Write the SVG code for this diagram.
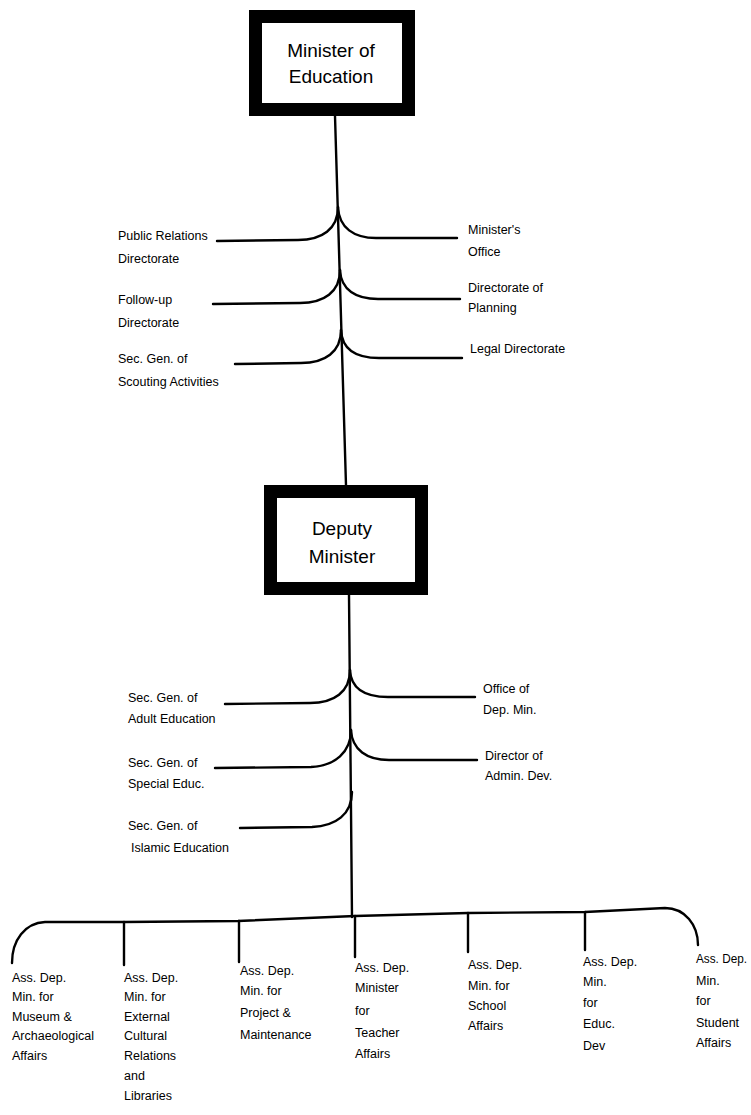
<svg xmlns="http://www.w3.org/2000/svg" width="751" height="1115" viewBox="0 0 751 1115">
<style>
.box{fill:#fff;stroke:#000;stroke-width:13}
.ln{fill:none;stroke:#000;stroke-width:2.4;stroke-linecap:round;stroke-linejoin:round}
.t{font-family:"Liberation Sans",Arial,sans-serif;fill:#000}
.big{font-size:19px}
.sm{font-size:12.5px}
.bt{font-size:12.5px}
</style>
<rect width="751" height="1115" fill="#fff"/>
<g id="connectors" class="ln">
<path d="M335 116 L346 485"/>
<path d="M338 207 C338 229 322 240 298 240 L217 241"/>
<path d="M338 207 C339 228 354 238 376 238 L457 238"/>
<path d="M340 270 C340 292 324 303 300 303 L213 304"/>
<path d="M340 270 C341 290 356 299 378 299 L460 299"/>
<path d="M341 330 C341 352 325 363 301 363 L235 364"/>
<path d="M341 330 C342 350 357 358 379 358 L462 358"/>
<path d="M349 595 L352 917"/>
<path d="M350 670 C350 692 334 703 310 703 L225 704"/>
<path d="M350 670 C351 690 366 697 388 697 L475 697"/>
<path d="M351 730 C351 752 335 766 311 767 L215 768"/>
<path d="M351 730 C352 750 367 760 389 760 L477 760"/>
<path d="M352 792 C352 814 336 826 312 827 L240 828"/>
<path d="M12 963 C12 940 25 923 45 922 L124 922 L238 921 L355 916 L468 913 L585 912 L665 908 C685 908 698 925 698 945"/>
<path d="M124 922 L124 965"/>
<path d="M239 921 L239 962"/>
<path d="M355 916 L355 957"/>
<path d="M468 913 L468 952"/>
<path d="M585 912 L585 950"/>
</g>
<g id="minister">
<rect class="box" x="255.5" y="16.5" width="153" height="93"/>
<text class="t big" x="331" y="57" text-anchor="middle">Minister of</text>
<text class="t big" x="331" y="83" text-anchor="middle">Education</text>
</g>
<g id="deputy">
<rect class="box" x="270.5" y="491.5" width="151" height="97"/>
<text class="t big" x="342" y="535" text-anchor="middle">Deputy</text>
<text class="t big" x="342" y="563" text-anchor="middle">Minister</text>
</g>
<g id="public-relations"><text class="t sm" x="118" y="240">Public Relations</text><text class="t sm" x="118" y="263">Directorate</text></g>
<g id="follow-up"><text class="t sm" x="118" y="304">Follow-up</text><text class="t sm" x="118" y="327">Directorate</text></g>
<g id="scouting"><text class="t sm" x="118" y="363">Sec. Gen. of</text><text class="t sm" x="118" y="386">Scouting Activities</text></g>
<g id="ministers-office"><text class="t sm" x="468" y="234">Minister's</text><text class="t sm" x="468" y="256">Office</text></g>
<g id="planning"><text class="t sm" x="468" y="292">Directorate of</text><text class="t sm" x="468" y="312">Planning</text></g>
<g id="legal"><text class="t sm" x="470" y="353">Legal Directorate</text></g>
<g id="adult-education"><text class="t sm" x="128" y="702">Sec. Gen. of</text><text class="t sm" x="128" y="723">Adult Education</text></g>
<g id="special-educ"><text class="t sm" x="128" y="767">Sec. Gen. of</text><text class="t sm" x="128" y="788">Special Educ.</text></g>
<g id="islamic-education"><text class="t sm" x="128" y="830">Sec. Gen. of</text><text class="t sm" x="131" y="852">Islamic Education</text></g>
<g id="office-dep-min"><text class="t sm" x="483" y="693">Office of</text><text class="t sm" x="483" y="714">Dep. Min.</text></g>
<g id="admin-dev"><text class="t sm" x="485" y="760">Director of</text><text class="t sm" x="485" y="780">Admin. Dev.</text></g>
<g id="museum">
<text class="t bt" x="12" y="982">Ass. Dep.</text><text class="t bt" x="12" y="1001">Min. for</text><text class="t bt" x="12" y="1021">Museum &amp;</text><text class="t bt" x="12" y="1040">Archaeological</text><text class="t bt" x="12" y="1060">Affairs</text>
</g>
<g id="cultural">
<text class="t bt" x="124" y="982">Ass. Dep.</text><text class="t bt" x="124" y="1001">Min. for</text><text class="t bt" x="124" y="1021">External</text><text class="t bt" x="124" y="1040">Cultural</text><text class="t bt" x="124" y="1060">Relations</text><text class="t bt" x="124" y="1080">and</text><text class="t bt" x="124" y="1100">Libraries</text>
</g>
<g id="project">
<text class="t bt" x="240" y="975">Ass. Dep.</text><text class="t bt" x="240" y="995">Min. for</text><text class="t bt" x="240" y="1017">Project &amp;</text><text class="t bt" x="240" y="1039">Maintenance</text>
</g>
<g id="teacher">
<text class="t bt" x="355" y="972">Ass. Dep.</text><text class="t bt" x="355" y="992">Minister</text><text class="t bt" x="355" y="1015">for</text><text class="t bt" x="355" y="1037">Teacher</text><text class="t bt" x="355" y="1058">Affairs</text>
</g>
<g id="school">
<text class="t bt" x="468" y="969">Ass. Dep.</text><text class="t bt" x="468" y="990">Min. for</text><text class="t bt" x="468" y="1010">School</text><text class="t bt" x="468" y="1030">Affairs</text>
</g>
<g id="educ-dev">
<text class="t bt" x="583" y="966">Ass. Dep.</text><text class="t bt" x="583" y="986">Min.</text><text class="t bt" x="583" y="1007">for</text><text class="t bt" x="583" y="1028">Educ.</text><text class="t bt" x="583" y="1050">Dev</text>
</g>
<g id="student">
<text class="t bt" x="696" y="963" textLength="51" lengthAdjust="spacingAndGlyphs">Ass. Dep.</text><text class="t bt" x="696" y="985">Min.</text><text class="t bt" x="696" y="1005">for</text><text class="t bt" x="696" y="1027">Student</text><text class="t bt" x="696" y="1047">Affairs</text>
</g>
</svg>
